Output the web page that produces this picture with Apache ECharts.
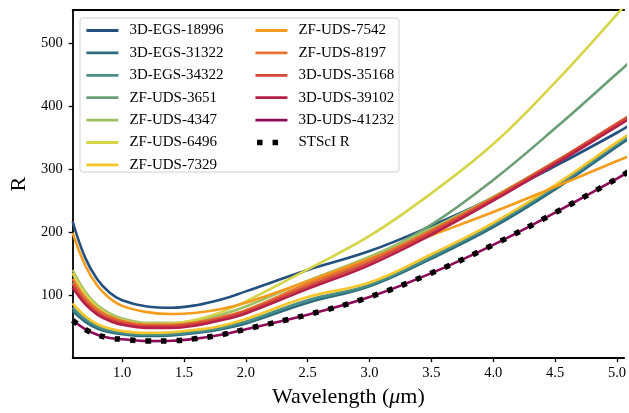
<!DOCTYPE html>
<html><head><meta charset="utf-8">
<script src="https://cdn.jsdelivr.net/npm/echarts@6/dist/echarts.min.js"></script>
<style>html,body{margin:0;padding:0;background:#fff}#c{width:629px;height:413px}</style>
</head><body><div id="c"></div>
<script>
const wavelengths = [0.6,0.7,0.8,0.9,1.0,1.2,1.4,1.6,1.8,2.0,2.5,3.0,3.5,4.0,4.5,5.0,5.1];
const seriesNames = ['3D-EGS-18996','3D-EGS-31322','3D-EGS-34322','ZF-UDS-3651','ZF-UDS-4347','ZF-UDS-6496','ZF-UDS-7329','ZF-UDS-7542','ZF-UDS-8197','3D-UDS-35168','3D-UDS-39102','3D-UDS-41232'];
const seriesColors = ['#23507f','#2b6d7e','#4a8e88','#6a9f76','#a0c065','#d6d447','#f7c62b','#f59c1c','#e8732e','#d5493b','#b51f48','#8c0a58'];
const r_18996 = [217,160,125,104,92,82,80,84,93,106,140,170,210,255,305,358,370];
const r_31322 = [75,58,47,41,38,35,36,40,46,55,88,114,158,208,268,336,349];
const r_34322 = [80,62,50,44,40,37,38,42,48,58,92,116,161,212,272,341,354];
const r_3651  = [120,92,74,63,56,50,50,54,62,72,112,158,212,283,365,452,470];
const r_4347  = [140,106,84,71,63,56,56,60,69,82,123,161,206,256,312,370,382];
const r_6496  = [135,102,81,68,60,54,55,61,73,90,141,194,262,340,438,546,570];
const r_7329  = [87,67,54,47,43,40,41,45,51,62,97,120,165,215,275,343,356];
const r_7542  = [199,148,115,95,83,73,70,72,78,88,122,158,195,232,272,313,321];
const r_8197  = [126,96,77,66,59,53,53,57,65,76,118,156,203,255,312,373,385];
const r_35168 = [118,90,72,62,56,51,51,55,63,74,114,152,200,253,311,372,384];
const r_39102 = [112,86,69,59,53,48,48,52,60,71,110,148,196,250,308,368,380];
const r_41232 = [60,46,37,32,30,27,27.5,31,37,46,69,97,135,180,231,285,297];
const r_stsci = [60,46,37,32,30,27,27.5,31,37,46,69,97,135,180,231,285,297];
const allValues = [r_18996,r_31322,r_34322,r_3651,r_4347,r_6496,r_7329,r_7542,r_8197,r_35168,r_39102,r_41232];
const stsciName = 'STScI R';
const yTicks = [100,200,300,400,500];
const xTickLabels = ['1.0','1.5','2.0','2.5','3.0','3.5','4.0','4.5','5.0'];

const FONT = '"Liberation Serif","DejaVu Serif",serif';
const pair = arr => wavelengths.map((w,i)=>[w,arr[i]]);

const series = allValues.map((arr,i)=>({
  name: seriesNames[i], type:'line', data: pair(arr), smooth: 0.4,
  showSymbol:false, symbol:'none', clip:true,
  lineStyle:{color:seriesColors[i], width:2.6}, itemStyle:{color:seriesColors[i]},
  z: 2+i*0.01
}));
series.push({
  name: stsciName, type:'line', data: pair(r_stsci), smooth:0.4,
  showSymbol:false, symbol:'none', clip:true,
  lineStyle:{color:'#000', width:5.5, type:[5.5,10], cap:'butt'},
  itemStyle:{color:'#000'}, z:3
});

const legendItem = (name, i) => ({name, lineStyle:{width:2.8, color:seriesColors[i]}});
const legendCommon = {
  orient:'vertical', padding:0, itemWidth:32, itemHeight:14, itemGap:7.4, z:10,
  itemStyle:{opacity:0},
  textStyle:{fontFamily:FONT, fontSize:15, color:'#000', lineHeight:14, padding:[0,0,0,6]},
  selectedMode:false
};

const chart = echarts.init(document.getElementById('c'), null, {renderer:'canvas'});
chart.setOption({
  animation:false,
  grid:{left:72, right:0, top:10, bottom:54, show:false},
  graphic:[{type:'rect', z:9, shape:{x:80, y:18, width:319, height:154, r:3},
    style:{fill:'rgba(255,255,255,0.8)', stroke:'#d0d0d0', lineWidth:1}}],
  legend:[
    Object.assign({left:85, top:23, data:seriesNames.slice(0,7).map((n,i)=>legendItem(n,i))}, legendCommon),
    Object.assign({left:252.7, top:23, data:seriesNames.slice(7).map((n,i)=>legendItem(n,i+7)).concat([
      {name:stsciName, lineStyle:{width:5.5, color:'#000', type:[5.5,10], dashOffset:-1.6, cap:'butt'}}])}, legendCommon)
  ],
  xAxis:[{
    type:'value', min:0.6, max:5.058, minInterval:0.5, maxInterval:0.5,
    name:'Wavelength ({i|μ}m)', nameLocation:'middle', nameGap:24,
    nameTextStyle:{fontFamily:FONT, fontSize:22, color:'#000', rich:{i:{fontFamily:FONT, fontSize:22, fontStyle:'italic', color:'#000'}}},
    axisLine:{show:true, onZero:false, lineStyle:{color:'#000', width:1.8}},
    axisTick:{show:true, length:4, lineStyle:{color:'#000', width:1.3}},
    axisLabel:{fontFamily:FONT, fontSize:14.5, color:'#000', margin:8, showMinLabel:false, showMaxLabel:false,
      formatter: v => { const s=v.toFixed(1); return xTickLabels.includes(s)?s:''; }},
    splitLine:{show:false}
  },{
    type:'value', position:'top', min:0.6, max:5.058,
    axisLine:{show:true, onZero:false, lineStyle:{color:'#000', width:1.8}},
    axisTick:{show:false}, axisLabel:{show:false}, splitLine:{show:false}
  }],
  yAxis:{
    type:'value', min:0, max:553, minInterval:100, maxInterval:100,
    name:'R', nameLocation:'middle', nameGap:42, nameRotate:90,
    nameTextStyle:{fontFamily:FONT, fontSize:22, color:'#000'},
    axisLine:{show:true, onZero:false, lineStyle:{color:'#000', width:1.8}},
    axisTick:{show:true, length:4, lineStyle:{color:'#000', width:1.3}},
    axisLabel:{fontFamily:FONT, fontSize:14.5, color:'#000', margin:10, showMinLabel:false, showMaxLabel:false,
      formatter: v => yTicks.includes(Math.round(v))?String(Math.round(v)):''},
    splitLine:{show:false}
  },
  series: series
});
</script></body></html>
